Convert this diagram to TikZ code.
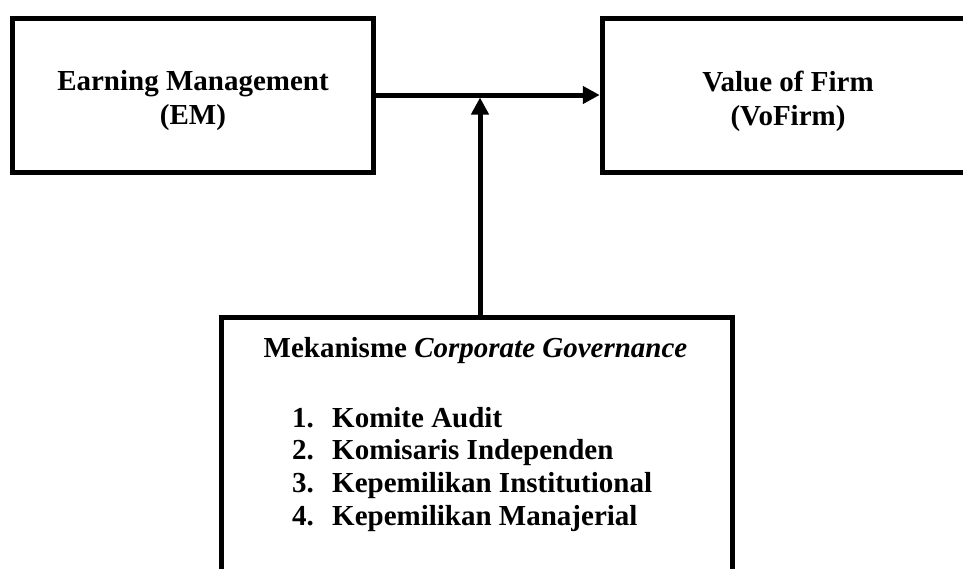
\documentclass[tikz,border=0pt]{standalone}
\usepackage{fontspec}
\setmainfont{Liberation Serif}
\usetikzlibrary{arrows.meta}

\tikzset{
  box/.style={draw, line width=5pt, inner sep=0pt},
  lbl/.style={font=\fontsize{29}{34}\selectfont\bfseries, align=center, inner sep=0pt},
  item/.style={font=\fontsize{29}{34}\selectfont\bfseries, inner sep=0pt, anchor=base west},
  conn/.style={line width=5pt, -{Triangle[length=17pt,width=17pt]}}
}

\begin{document}
\begin{tikzpicture}[x=1pt,y=-1pt]
\useasboundingbox (0,0) rectangle (963,568);

% upper boxes
\node[box, minimum width=361pt, minimum height=154pt] (em) at (193,95) {};
\node[lbl] (emtext) at (193,101) {Earning Management\\(EM)};

\node[box, minimum width=371.5pt, minimum height=154pt] (vf) at (788,95) {};
\node[lbl] (vftext) at (788,101) {Value of Firm\\(VoFirm)};

% moderating box
\node[box, minimum width=511pt, minimum height=263pt] (gov) at (476.5,448.5) {};
\node[lbl, anchor=base] (govtitle) at (475.5,357) {Mekanisme \textit{Corporate Governance}};
\node[item] (k1) at (292,427) {\makebox[40pt][l]{1.}Komite Audit};
\node[item] (k2) at (292,459) {\makebox[40pt][l]{2.}Komisaris Independen};
\node[item] (k3) at (292,492) {\makebox[40pt][l]{3.}Kepemilikan Institutional};
\node[item] (k4) at (292,525) {\makebox[40pt][l]{4.}Kepemilikan Manajerial};

% connectors
\coordinate (join) at (480,97.5);
\draw[conn] (em.east) -- (vf.west);
\draw[conn] (gov.north -| join) -- (join);
\end{tikzpicture}
\end{document}
